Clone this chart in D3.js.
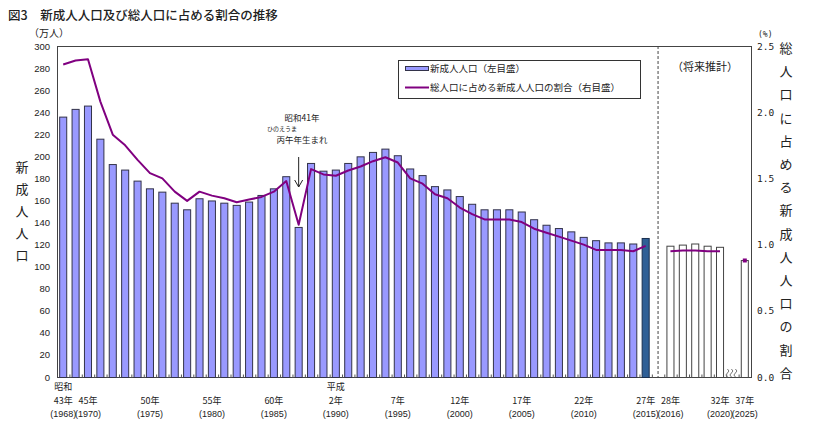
<!DOCTYPE html>
<meta http-equiv="Content-Type" content="text/html; charset=utf-8">
<style>
body { margin: 0; background: #fff; }
text { font-family: "Noto Sans CJK JP", "Noto Sans", sans-serif; fill: #222; }
.num { font-family: "Liberation Sans", Arial, sans-serif; }
.mono { font-family: "DejaVu Sans Mono", monospace; }
</style>
<body>
<script src="https://cdn.jsdelivr.net/npm/d3@7"></script>
<script>
// 新成人人口（万人）, 昭和43年(1968)〜平成27年(2015)
var years = [1968,1969,1970,1971,1972,1973,1974,1975,1976,1977,
             1978,1979,1980,1981,1982,1983,1984,1985,1986,1987,
             1988,1989,1990,1991,1992,1993,1994,1995,1996,1997,
             1998,1999,2000,2001,2002,2003,2004,2005,2006,2007,
             2008,2009,2010,2011,2012,2013,2014,2015];
var newAdults = [236,243,246,216,193,188,178,171,168,158,
                 152,162,160,158,156,159,165,171,182,136,
                 194,187,188,194,200,204,207,201,189,183,
                 173,170,164,157,152,152,152,150,143,138,
                 135,132,127,124,122,122,121,126];
// 総人口に占める割合（%）
var ratio = [2.36,2.39,2.40,2.08,1.83,1.75,1.64,1.54,1.50,1.40,
             1.33,1.40,1.37,1.35,1.32,1.34,1.36,1.40,1.48,1.15,
             1.57,1.53,1.52,1.56,1.59,1.63,1.66,1.62,1.50,1.46,
             1.38,1.35,1.28,1.23,1.19,1.19,1.19,1.17,1.12,1.09,
             1.06,1.03,1.00,0.96,0.96,0.96,0.95,0.99];
// 将来推計
var futYears = [2016,2017,2018,2019,2020];
var futAdults = [119,120,121,119,118];
var futRatio = [0.95,0.955,0.955,0.95,0.95];
var farYear = [2025];
var farAdults = [106];
var farRatio = [0.88];

// 目盛ラベル
var xLabels = [
  {key:1968, era:"昭和", jp:"43年", ad:"(1968)"},
  {key:1970, jp:"45年", ad:"(1970)"},
  {key:1975, jp:"50年", ad:"(1975)"},
  {key:1980, jp:"55年", ad:"(1980)"},
  {key:1985, jp:"60年", ad:"(1985)"},
  {key:1990, era:"平成", jp:"2年", ad:"(1990)"},
  {key:1995, jp:"7年", ad:"(1995)"},
  {key:2000, jp:"12年", ad:"(2000)"},
  {key:2005, jp:"17年", ad:"(2005)"},
  {key:2010, jp:"22年", ad:"(2010)"},
  {key:2015, jp:"27年", ad:"(2015)"},
  {key:2016, jp:"28年", ad:"(2016)"},
  {key:2020, jp:"32年", ad:"(2020)"},
  {key:2025, jp:"37年", ad:"(2025)"}
];
var leftTicks = [0,20,40,60,80,100,120,140,160,180,200,220,240,260,280,300];
var rightTicks = [0,0.5,1.0,1.5,2.0,2.5];

var W = 826, H = 432;
var L = 57, R = 751, T = 46, B = 377;

var svg = d3.select("body").append("svg").attr("width", W).attr("height", H);

var slots = years.concat(["gap1"], futYears, ["gap2"], farYear);
var x = d3.scaleBand().domain(slots).range([L, R]).paddingInner(0.35).paddingOuter(0.175);
var yL = d3.scaleLinear().domain([0, 300]).range([B, T]);
var yR = d3.scaleLinear().domain([0, 2.5]).range([B, T]);

// title
svg.append("text").attr("x", 8).attr("y", 20).attr("font-size", 12.5).attr("font-weight", 500)
  .text("図3　新成人人口及び総人口に占める割合の推移");

// frame
svg.append("rect").attr("x", L + 0.5).attr("y", T + 0.5).attr("width", R - L).attr("height", B - T)
  .attr("fill", "none").attr("stroke", "#444").attr("stroke-width", 1);

// left axis labels
svg.append("g").selectAll("text").data(leftTicks).enter().append("text")
  .attr("class", "num").attr("x", 50).attr("y", function(d){ return yL(d) + 3.5; })
  .attr("text-anchor", "end").attr("font-size", 9.5).text(function(d){ return d; });
svg.append("text").attr("x", 29).attr("y", 37).attr("font-size", 10).text("（万人）");

// right axis labels
svg.append("g").selectAll("text").data(rightTicks).enter().append("text")
  .attr("class", "mono").attr("x", 757).attr("y", function(d){ return yR(d) + 3.5; })
  .attr("font-size", 9.5).text(function(d){ return d3.format(".1f")(d); });
svg.append("text").attr("class", "mono").attr("x", 758).attr("y", 37).attr("font-size", 8).text("(%)");

// vertical axis titles
var leftTitle = "新成人人口".split("");
svg.append("g").selectAll("text").data(leftTitle).enter().append("text")
  .attr("x", 22).attr("y", function(d, i){ return 172 + i * 22; })
  .attr("text-anchor", "middle").attr("font-size", 13).text(function(d){ return d; });
var rightTitle = "総人口に占める新成人人口の割合".split("");
svg.append("g").selectAll("text").data(rightTitle).enter().append("text")
  .attr("x", 786).attr("y", function(d, i){ return 53 + i * 23.2; })
  .attr("text-anchor", "middle").attr("font-size", 13).text(function(d){ return d; });

// bars
var bw = x.bandwidth();
var hist = years.map(function(y, i){ return {k:y, v:newAdults[i]}; });
svg.append("g").selectAll("rect").data(hist).enter().append("rect")
  .attr("x", function(d){ return x(d.k) + 0.5; })
  .attr("y", function(d){ return yL(d.v) + 0.5; })
  .attr("width", bw - 1).attr("height", function(d){ return B - yL(d.v); })
  .attr("fill", function(d){ return d.k === 2015 ? "#2f5f96" : "#9999ff"; })
  .attr("stroke", function(d){ return d.k === 2015 ? "#1a2f4f" : "#33334a"; })
  .attr("stroke-width", 1);

var fut = futYears.map(function(y, i){ return {k:y, v:futAdults[i]}; })
  .concat(farYear.map(function(y, i){ return {k:y, v:farAdults[i]}; }));
svg.append("g").selectAll("rect").data(fut).enter().append("rect")
  .attr("x", function(d){ return x(d.k) + 0.5; })
  .attr("y", function(d){ return yL(d.v) + 0.5; })
  .attr("width", bw - 1).attr("height", function(d){ return B - yL(d.v); })
  .attr("fill", "#fff").attr("stroke", "#444").attr("stroke-width", 1);

// small ticks on bottom axis
var tickKeys = slots.slice(1);
svg.append("g").selectAll("line").data(tickKeys).enter().append("line")
  .attr("x1", function(d){ return x(d) - x.step() * 0.175 + 0.5; })
  .attr("x2", function(d){ return x(d) - x.step() * 0.175 + 0.5; })
  .attr("y1", B + 0.5).attr("y2", B - 2.5)
  .attr("stroke", "#555").attr("stroke-width", 1);

// dashed divider
var gx = x("gap1") + bw / 2;
svg.append("line").attr("x1", gx).attr("x2", gx).attr("y1", T).attr("y2", B)
  .attr("stroke", "#444").attr("stroke-dasharray", "3,2").attr("stroke-width", 1);
svg.append("text").attr("x", 705).attr("y", 71).attr("text-anchor", "middle").attr("font-size", 11).text("（将来推計）");

// break mark
var bx = x("gap2") + bw / 2;
var sq = svg.append("g").attr("fill", "none").attr("stroke", "#777").attr("stroke-width", 1);
[-4, 0, 4].forEach(function(o){
  sq.append("path").attr("d", "M" + (bx + o - 1) + "," + (B - 8) + " q3,2 0,4 q-3,2 0,4");
});

// ratio line
var line = d3.line().x(function(d){ return x(d.k) + bw / 2; }).y(function(d){ return yR(d.r); });
var histR = years.map(function(y, i){ return {k:y, r:ratio[i]}; });
var futR = futYears.map(function(y, i){ return {k:y, r:futRatio[i]}; });
svg.append("path").datum(histR).attr("d", line).attr("fill", "none")
  .attr("stroke", "#800080").attr("stroke-width", 2).attr("stroke-linejoin", "round");
svg.append("path").datum(futR).attr("d", line).attr("fill", "none")
  .attr("stroke", "#800080").attr("stroke-width", 2);
svg.append("g").selectAll("rect").data(farYear.map(function(y, i){ return {k:y, r:farRatio[i]}; }))
  .enter().append("rect")
  .attr("x", function(d){ return x(d.k) + bw / 2 - 2; })
  .attr("y", function(d){ return yR(d.r) - 2; })
  .attr("width", 4).attr("height", 4).attr("fill", "#800080");

// x labels
var xl = svg.append("g").attr("font-size", 9);
xLabels.forEach(function(d){
  var cx = x(d.key) + bw / 2;
  if (d.era) xl.append("text").attr("x", cx).attr("y", 390).attr("text-anchor", "middle").text(d.era);
  xl.append("text").attr("x", cx).attr("y", 404).attr("text-anchor", "middle").text(d.jp);
  xl.append("text").attr("class", "num").attr("x", cx).attr("y", 417).attr("text-anchor", "middle").text(d.ad);
});

// legend
var lg = svg.append("g");
lg.append("rect").attr("x", 398.5).attr("y", 60.5).attr("width", 242).attr("height", 38)
  .attr("fill", "#fff").attr("stroke", "#333");
lg.append("rect").attr("x", 405.5).attr("y", 66.5).attr("width", 23).attr("height", 4)
  .attr("fill", "#9999ff").attr("stroke", "#33334a");
lg.append("text").attr("x", 430).attr("y", 72).attr("font-size", 9.5).text("新成人人口（左目盛）");
lg.append("line").attr("x1", 405).attr("x2", 429).attr("y1", 87.5).attr("y2", 87.5)
  .attr("stroke", "#800080").attr("stroke-width", 2);
lg.append("text").attr("x", 430).attr("y", 91).attr("font-size", 9.5).text("総人口に占める新成人人口の割合（右目盛）");

// annotation (昭和41年 丙午)
var ax = x(1987) + bw / 2;
svg.append("text").attr("x", 302).attr("y", 121).attr("text-anchor", "middle").attr("font-size", 8.5).text("昭和41年");
svg.append("text").attr("x", 282).attr("y", 131).attr("text-anchor", "middle").attr("font-size", 6).text("ひのえうま");
svg.append("text").attr("x", 302).attr("y", 143).attr("text-anchor", "middle").attr("font-size", 8.5).text("丙午年生まれ");
svg.append("path").attr("d", "M" + ax + ",157 V187 M" + (ax - 4) + ",180 L" + ax + ",187 L" + (ax + 4) + ",180")
  .attr("fill", "none").attr("stroke", "#222").attr("stroke-width", 1);
</script>
</body>
</html>
